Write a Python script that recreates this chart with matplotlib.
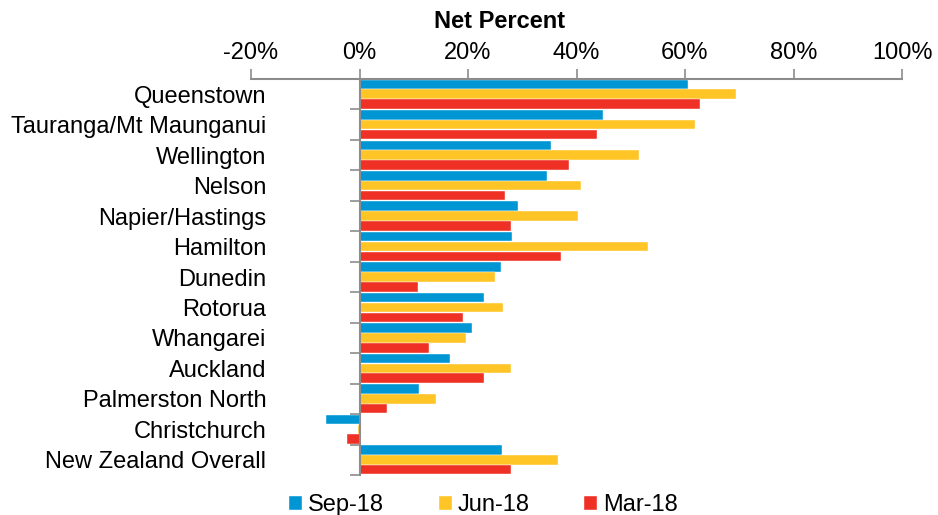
import numpy as np
import matplotlib
matplotlib.use('Agg')
import matplotlib.pyplot as plt
from matplotlib import rcParams
from matplotlib.ticker import FuncFormatter

rcParams.update({'font.family': ['Liberation Sans', 'DejaVu Sans'], 'font.size': 17})

cities = ['Queenstown', 'Tauranga/Mt Maunganui', 'Wellington', 'Nelson',
          'Napier/Hastings', 'Hamilton', 'Dunedin', 'Rotorua', 'Whangarei',
          'Auckland', 'Palmerston North', 'Christchurch', 'New Zealand Overall']
sep18 = [60.6, 44.9, 35.3, 34.5, 29.2, 28.1, 26.0, 23.0, 20.8, 16.6, 10.9, -6.1, 26.2]
jun18 = [69.4, 61.8, 51.5, 40.8, 40.3, 53.1, 24.9, 26.5, 19.7, 27.9, 14.1, -0.2, 36.6]
mar18 = [62.7, 43.7, 38.6, 26.8, 28.0, 37.2, 10.8, 19.0, 12.8, 22.9, 5.0, -2.3, 27.9]
series = ['Sep-18', 'Jun-18', 'Mar-18']
xticks = [-20, 0, 20, 40, 60, 80, 100]

colors = ['#0096D3', '#FFC425', '#EE3124']
axis_grey = '#8C8C8C'

fig = plt.figure(figsize=(9.38, 5.15), dpi=100)
ax = fig.add_axes([251 / 938, 1 - 475 / 515, 651 / 938, 396 / 515])

y = np.arange(len(cities))
step = 0.323
for k, (vals, name, col) in enumerate(zip([sep18, jun18, mar18], series, colors)):
    ax.barh(y + (k - 1) * step, vals, height=0.315, color=col, label=name,
            edgecolor='white', linewidth=0.3)

ax.set_xlim(-20, 100)
ax.set_ylim(len(cities) - 0.5, -0.5)

# x axis on top
ax.xaxis.set_ticks_position('top')
ax.set_xticks(xticks)
ax.xaxis.set_major_formatter(FuncFormatter(lambda v, p: f'{v:.0f}%'))
ax.tick_params(axis='x', direction='out', length=7, width=1.2, color=axis_grey, pad=4)
ax.xaxis.set_label_position('top')
ax.set_xlabel('Net Percent', fontweight='bold')
ax.xaxis.label.set_va('center')
ax.xaxis.set_label_coords((499.5 - 251) / 651, 1 + (79 - 21) / 396)

# category axis sitting on 0%
ax.spines['left'].set_position(('data', 0))
ax.set_yticks(y)
ax.set_yticklabels(cities)
ax.set_yticks(np.arange(len(cities) + 1) - 0.5, minor=True)
ax.tick_params(axis='y', which='major', length=0, pad=67)
ax.tick_params(axis='y', which='minor', direction='out', length=7, width=1.2, color=axis_grey)

for s in ['right', 'bottom']:
    ax.spines[s].set_visible(False)
for s in ['left', 'top']:
    ax.spines[s].set_color(axis_grey)
    ax.spines[s].set_linewidth(1.5)

fig.legend(loc='center', bbox_to_anchor=(483.5 / 938, 1 - 505 / 515), ncol=3,
           frameon=False, handlelength=0.55, handleheight=0.55, handletextpad=0.25,
           columnspacing=2.3, borderpad=0)

fig.savefig('out.png', dpi=100)
